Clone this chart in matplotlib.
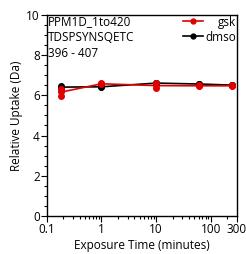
import numpy as np
import matplotlib
matplotlib.use("Agg")
import matplotlib.pyplot as plt
from matplotlib.lines import Line2D
from matplotlib.ticker import MultipleLocator, LogLocator, NullFormatter, FixedLocator, FixedFormatter

times = [0.18, 1, 10, 60, 240]
gsk_rep = [[6.3, 5.95, 6.22], [6.55, 6.6], [6.62, 6.35], [6.5, 6.45], [6.5, 6.45]]
dmso_rep = [[6.47, 6.35], [6.4, 6.45], [6.62, 6.6], [6.58, 6.55], [6.52, 6.5]]
xticks = [0.1, 1, 10, 100, 300]
xticklabels = ["0.1", "1", "10", "100", "300"]
title_lines = ["PPM1D_1to420", "TDSPSYNSQETC", "396 - 407"]
series_names = ["gsk", "dmso"]

plt.rcParams['font.family'] = ['Open Sans', 'DejaVu Sans']
FS = 8.5

fig = plt.figure(figsize=(2.46, 2.54), dpi=100)
ax = fig.add_axes([0.19, 0.15, 0.773, 0.791])

red = '#e00000'
colors = {'gsk': red, 'dmso': 'black'}
for color, reps in [('black', dmso_rep), (red, gsk_rep)]:
    means = [np.mean(r) for r in reps]
    ax.plot(times, means, color=color, lw=1.2, marker='o', ms=3.5, zorder=3)
    for t, r in zip(times, reps):
        ax.plot([t] * len(r), r, 'o', color=color, ms=4, zorder=4)

ax.set_xscale('log')
ax.set_xlim(0.1, 300)
ax.set_ylim(0, 10)
ax.xaxis.set_major_locator(FixedLocator(xticks))
ax.xaxis.set_major_formatter(FixedFormatter(xticklabels))
ax.xaxis.set_minor_locator(LogLocator(base=10, subs=np.arange(2, 10)))
ax.xaxis.set_minor_formatter(NullFormatter())
ax.yaxis.set_major_locator(MultipleLocator(2))
ax.yaxis.set_minor_locator(MultipleLocator(0.5))
ax.tick_params(which='both', direction='out', labelsize=FS, width=0.8, pad=1)
ax.tick_params(which='major', length=4)
ax.tick_params(which='minor', length=2)
for s in ax.spines.values():
    s.set_linewidth(1.0)

ax.set_xlabel("Exposure Time (minutes)", fontsize=FS, labelpad=2)
ax.set_ylabel("Relative Uptake (Da)", fontsize=FS, labelpad=2)

ax.text(0.008, 1.0, "\n".join(title_lines), transform=ax.transAxes, ha='left', va='top',
        fontsize=FS, linespacing=1.28)

# legend (handle on the left, label right-aligned)
for i, name in enumerate(series_names):
    yy = 0.972 - i * 0.076
    ax.add_line(Line2D([0.716, 0.821], [yy, yy], transform=ax.transAxes, color=colors[name],
                       lw=1.2, clip_on=False))
    ax.add_line(Line2D([0.7685], [yy], transform=ax.transAxes, color=colors[name],
                       marker='o', ms=3.5, clip_on=False))
    ax.text(0.998, yy, name, transform=ax.transAxes, ha='right', va='center_baseline',
            fontsize=FS)

fig.savefig("out.png", dpi=100)
